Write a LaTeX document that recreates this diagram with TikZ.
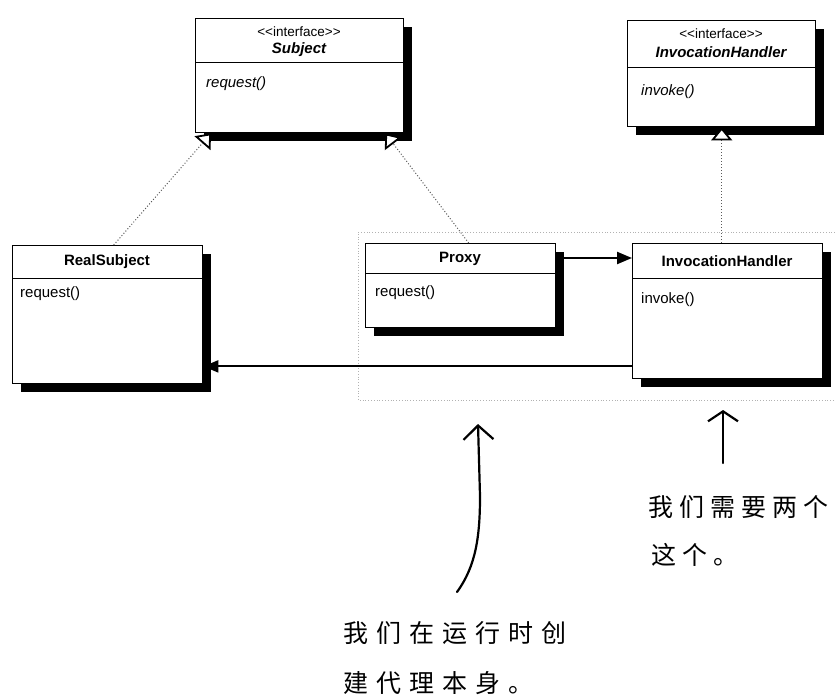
\documentclass[tikz,border=0pt]{standalone}
\usepackage{fontspec}
\setmainfont{Liberation Sans}[Ligatures=TeXOff]
\newfontfamily\cjk{Noto Sans CJK SC}
\usetikzlibrary{arrows.meta,shadows,calc}
\pgfdeclarelayer{bg}\pgfsetlayers{bg,main}
\begin{document}
\begin{tikzpicture}[x=1pt,y=-1pt,
  umlbox/.style={draw, line width=1.4pt, fill=white, anchor=north west, inner sep=0pt,
    drop shadow={opacity=1, fill=black, shadow xshift=8pt, shadow yshift=-8pt}},
  divider/.style={line width=0.9pt},
  stereo/.style={font=\fontsize{13.5}{15}\selectfont, inner sep=0pt},
  iname/.style={font=\bfseries\itshape\fontsize{15}{17}\selectfont, inner sep=0pt},
  cname/.style={font=\bfseries\fontsize{15}{17}\selectfont, inner sep=0pt},
  imeth/.style={font=\itshape\fontsize{15}{17}\selectfont, inner sep=0pt, anchor=west},
  cmeth/.style={font=\fontsize{15}{17}\selectfont, inner sep=0pt, anchor=west},
  realize/.style={dotted, line width=1pt, gray!70!black,
    -{Triangle[open, length=13pt, width=21pt, fill=white, line width=1.8pt, color=black]}},
  assoc/.style={line width=2.2pt, -{Triangle[length=15pt, width=12pt]}},
  frame/.style={dotted, line width=0.8pt, gray!60},
  hand/.style={line width=2.2pt, line cap=round},
  bighead/.style={-{Straight Barb[length=14pt, width=30pt, line width=2.2pt]}},
  smallhead/.style={-{Straight Barb[length=10pt, width=30pt, line width=2.2pt]}},
  cjktext/.style={font=\cjk\fontsize{25}{25}\selectfont\addfontfeature{LetterSpace=32}, inner sep=0pt, anchor=west},
  cjktight/.style={font=\cjk\fontsize{25}{25}\selectfont\addfontfeature{LetterSpace=24}, inner sep=0pt, anchor=west}
]
\useasboundingbox (0,0) rectangle (835,700);

% frame (background)
\coordinate (f1) at (835,232);
\coordinate (f2) at (358,232);
\coordinate (f3) at (358,400);
\coordinate (f4) at (835,400);
\begin{pgfonlayer}{bg}
\draw[frame] (f1) -- (f2) -- (f3) -- (f4);
\end{pgfonlayer}

% boxes
\node[umlbox, minimum width=208pt, minimum height=114pt] (subj) at (195,18) {};
\draw[divider] ($(subj.north west)+(0,44)$) -- ($(subj.north east)+(0,44)$);
\node[stereo] (subjst) at (299,32) {<<interface>>};
\node[iname] (subjnm) at (299,50) {Subject};
\node[imeth] (subjm) at (206,84) {request()};

\node[umlbox, minimum width=188pt, minimum height=106pt] (ihi) at (627,20) {};
\draw[divider] ($(ihi.north west)+(0,47)$) -- ($(ihi.north east)+(0,47)$);
\node[stereo] (ihist) at (721,34) {<<interface>>};
\node[iname] (ihinm) at (721,52) {InvocationHandler};
\node[imeth] (ihim) at (641,92) {invoke()};

\node[umlbox, minimum width=190pt, minimum height=138pt] (rs) at (12,245) {};
\draw[divider] ($(rs.north west)+(0,33)$) -- ($(rs.north east)+(0,33)$);
\node[cname] (rsnm) at (107,262) {RealSubject};
\node[cmeth] (rsm) at (20,294) {request()};

\node[umlbox, minimum width=190pt, minimum height=84pt] (px) at (365,243) {};
\draw[divider] ($(px.north west)+(0,30)$) -- ($(px.north east)+(0,30)$);
\node[cname] (pxnm) at (460,259) {Proxy};
\node[cmeth] (pxm) at (375,293) {request()};

\node[umlbox, minimum width=190pt, minimum height=135pt] (ih) at (632,243) {};
\draw[divider] ($(ih.north west)+(0,35)$) -- ($(ih.north east)+(0,35)$);
\node[cname] (ihnm) at (727,261) {InvocationHandler};
\node[cmeth] (ihm) at (641,300) {invoke()};

% connectors
\draw[realize] ($(rs.north)+(6,0)$) -- ($(subj.south west)+(16,0)$);
\draw[realize] ($(px.north)+(8,0)$) -- ($(subj.south east)+(-19,0)$);
\draw[realize] (ihi.south |- ih.north) -- (ihi.south);
\draw[assoc] ($(px.north east)+(0,15)$) -- ($(ih.north west)+(0,15)$);
\draw[assoc] ($(ih.south west)+(0,-13)$) -- ($(rs.south east)+(0,-18)$);

% handwritten notes
\coordinate (h1s) at (457,592);
\coordinate (h1e) at (478,424);
\draw[hand, bighead] (h1s) .. controls (476,566) and (480,536) .. (480,496) -- (h1e);
\coordinate (h2s) at (723,463);
\coordinate (h2e) at (723,410);
\draw[hand, smallhead] (h2s) -- (h2e);

\node[cjktext] (t1) at (343,633) {我们在运行时创};
\node[cjktext] (t2) at (343,683) {建代理本身。};
\node[cjktight] (t3) at (648,507) {我们需要两个};
\node[cjktight] (t4) at (651,555) {这个。};
\end{tikzpicture}
\end{document}
